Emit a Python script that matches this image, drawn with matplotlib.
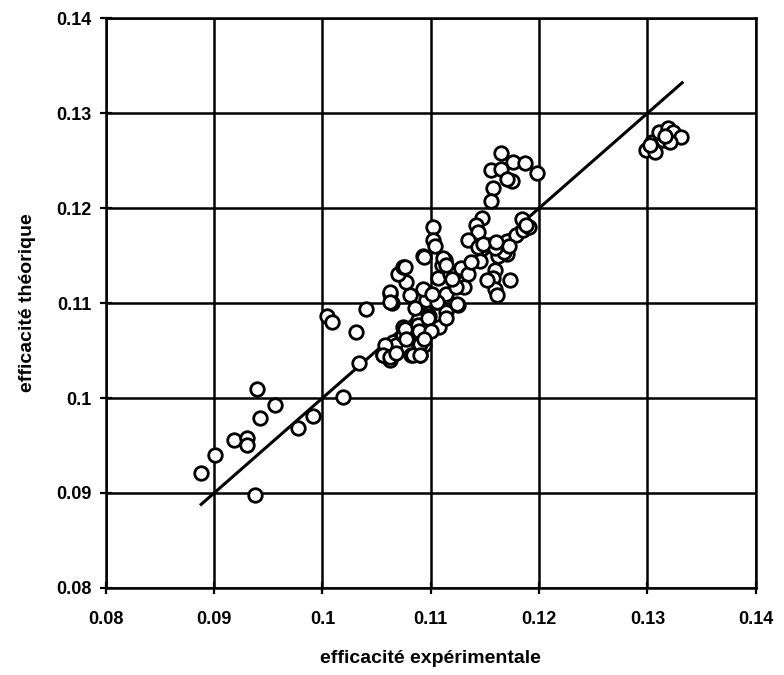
import numpy as np
import matplotlib
matplotlib.use('Agg')
import matplotlib.pyplot as plt

plt.rcParams['font.family'] = ['Liberation Sans', 'DejaVu Sans']

exp_eff = [
    0.0888, 0.0901, 0.0918, 0.0930, 0.0930, 0.0942, 0.0940, 0.0956, 0.0977, 0.0991,
    0.0938, 0.1019, 0.1034, 0.1031, 0.1004, 0.1009, 0.1040, 0.1056, 0.1062, 0.1062,
    0.1064, 0.1065, 0.1068, 0.1058, 0.1056, 0.1062, 0.1078, 0.1082, 0.1090, 0.1094,
    0.1074, 0.1074, 0.1082, 0.1090, 0.1108, 0.1098, 0.1088, 0.1114, 0.1125, 0.1105,
    0.1096, 0.1114, 0.1107, 0.1118, 0.1128, 0.1134, 0.1131, 0.1123, 0.1093, 0.1081,
    0.1062, 0.1062, 0.1077, 0.1070, 0.1074, 0.1076, 0.1093, 0.1113, 0.1110, 0.1102,
    0.1102, 0.1104, 0.1094, 0.1111, 0.1114, 0.1147, 0.1142, 0.1144, 0.1134, 0.1144,
    0.1154, 0.1145, 0.1159, 0.1157, 0.1159, 0.1161, 0.1173, 0.1170, 0.1162, 0.1168,
    0.1170, 0.1179, 0.1185, 0.1191, 0.1184, 0.1188, 0.1165, 0.1176, 0.1187, 0.1198,
    0.1156, 0.1165, 0.1175, 0.1170, 0.1157, 0.1156, 0.1076, 0.1088, 0.1097, 0.1106,
    0.1124, 0.1114, 0.1089, 0.1100, 0.1090, 0.1077, 0.1084, 0.1090, 0.1094, 0.1159,
    0.1148, 0.1152, 0.1137, 0.1172, 0.1160, 0.1304, 0.1299, 0.1307, 0.1314, 0.1311,
    0.1319, 0.1324, 0.1331, 0.1321, 0.1316, 0.1302, 0.1120, 0.1101, 0.1085, 0.1068,
]
theo_eff = [
    0.0921, 0.0940, 0.0956, 0.0958, 0.0951, 0.0979, 0.1010, 0.0993, 0.0968, 0.0981,
    0.0898, 0.1001, 0.1037, 0.1070, 0.1086, 0.1080, 0.1094, 0.1045, 0.1040, 0.1110,
    0.1100, 0.1059, 0.1056, 0.1056, 0.1045, 0.1043, 0.1051, 0.1045, 0.1045, 0.1056,
    0.1075, 0.1066, 0.1070, 0.1065, 0.1075, 0.1086, 0.1082, 0.1091, 0.1098, 0.1101,
    0.1103, 0.1110, 0.1126, 0.1131, 0.1137, 0.1131, 0.1117, 0.1117, 0.1115, 0.1108,
    0.1112, 0.1101, 0.1122, 0.1131, 0.1138, 0.1138, 0.1150, 0.1145, 0.1140, 0.1180,
    0.1166, 0.1160, 0.1149, 0.1147, 0.1140, 0.1190, 0.1182, 0.1175, 0.1166, 0.1159,
    0.1161, 0.1144, 0.1135, 0.1126, 0.1115, 0.1108, 0.1124, 0.1152, 0.1150, 0.1154,
    0.1165, 0.1172, 0.1177, 0.1180, 0.1189, 0.1182, 0.1258, 0.1249, 0.1248, 0.1237,
    0.1240, 0.1241, 0.1229, 0.1231, 0.1221, 0.1208, 0.1073, 0.1077, 0.1084, 0.1101,
    0.1099, 0.1084, 0.1071, 0.1071, 0.1057, 0.1062, 0.1045, 0.1045, 0.1062, 0.1158,
    0.1162, 0.1124, 0.1143, 0.1160, 0.1164, 0.1270, 0.1261, 0.1259, 0.1272, 0.1280,
    0.1284, 0.1280, 0.1275, 0.1270, 0.1276, 0.1267, 0.1125, 0.1110, 0.1095, 0.1047,
]
fit_x = [0.0888, 0.1332]
ticks = [0.08, 0.09, 0.1, 0.11, 0.12, 0.13, 0.14]
tick_labels = ['0.08', '0.09', '0.1', '0.11', '0.12', '0.13', '0.14']

fig = plt.figure(figsize=(7.84, 6.75), dpi=100)
ax = fig.add_axes([0.135, 0.129, 0.829, 0.844])

ax.set_xlim(0.08, 0.14)
ax.set_ylim(0.08, 0.14)
ax.set_xticks(ticks)
ax.set_yticks(ticks)
ax.set_xticklabels(tick_labels, fontsize=13, fontweight='bold')
ax.set_yticklabels(tick_labels, fontsize=13, fontweight='bold')
ax.grid(True, color='black', linewidth=1.8)
ax.set_axisbelow(True)
for s in ax.spines.values():
    s.set_linewidth(1.8)
ax.tick_params(direction='inout', length=9, width=1.6)
ax.tick_params(axis='x', pad=12)
ax.tick_params(axis='y', pad=6)

ax.plot(fit_x, fit_x, color='black', linewidth=2.2, zorder=2)
ax.scatter(exp_eff, theo_eff, s=95, facecolors='white', edgecolors='black',
           linewidths=2.0, zorder=3)

ax.set_xlabel('efficacité expérimentale', fontsize=14, fontweight='bold', labelpad=16)
ax.set_ylabel('efficacité théorique', fontsize=14, fontweight='bold', labelpad=14)

fig.savefig('out.png', dpi=100)
